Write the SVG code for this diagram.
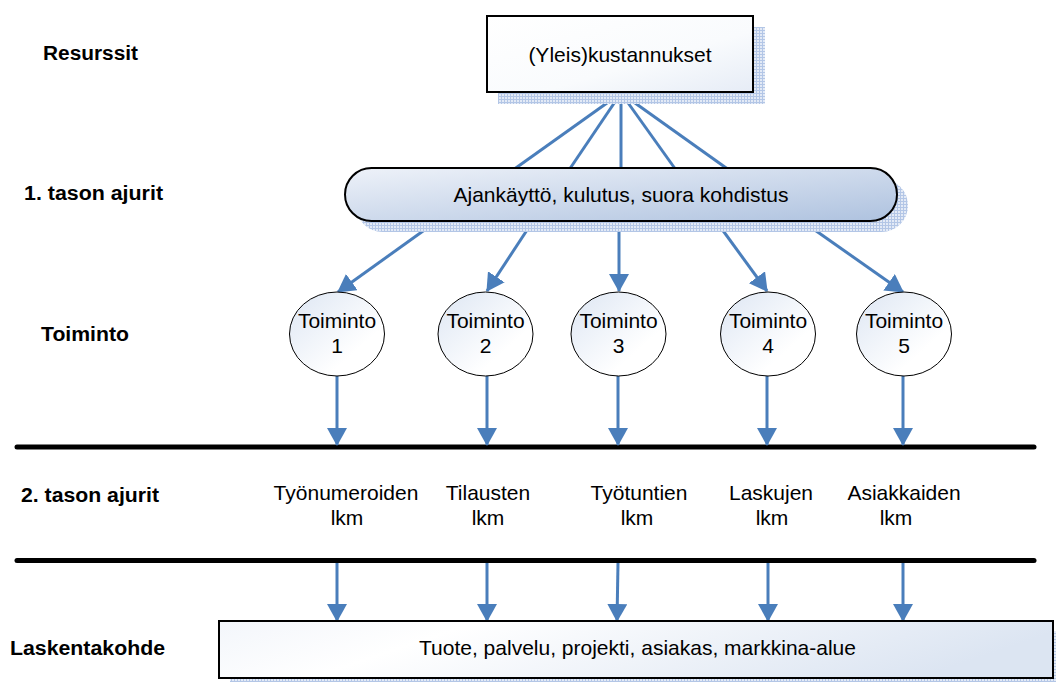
<svg xmlns="http://www.w3.org/2000/svg" width="1056" height="682" viewBox="0 0 1056 682">
  <style>
    .lbl { font-family: "Liberation Sans", Arial, sans-serif; font-size: 20px; font-weight: bold; fill: #000; }
    .txt { font-family: "Liberation Sans", Arial, sans-serif; font-size: 21px; fill: #000; text-anchor: middle; }
    .conn { stroke: #4a7ebb; stroke-width: 3; fill: none; }
    .arr { marker-end: url(#ah); }
    .rule { stroke: #000; stroke-width: 5; stroke-linecap: round; }
    .shadow { fill: url(#chk); }
  </style>
  <defs>
    <pattern id="chk" width="3" height="3" patternUnits="userSpaceOnUse">
      <rect width="3" height="3" fill="#e3eaf6"/>
      <rect width="3" height="1" fill="#b3c6e6"/>
      <rect width="1" height="3" fill="#b3c6e6"/>
    </pattern>
    <linearGradient id="gBox" x1="0" y1="0" x2="1" y2="1">
      <stop offset="0" stop-color="#ffffff"/>
      <stop offset="0.6" stop-color="#f9fbfd"/>
      <stop offset="1" stop-color="#e6ecf6"/>
    </linearGradient>
    <linearGradient id="gPill" x1="0" y1="0" x2="1" y2="1">
      <stop offset="0" stop-color="#eef2f9"/>
      <stop offset="1" stop-color="#aec2df"/>
    </linearGradient>
    <linearGradient id="gCirc" x1="0" y1="0" x2="1" y2="1">
      <stop offset="0" stop-color="#dde6f3"/>
      <stop offset="0.7" stop-color="#ffffff"/>
      <stop offset="1" stop-color="#ffffff"/>
    </linearGradient>
    <linearGradient id="gBot" x1="0" y1="0" x2="1" y2="0.2">
      <stop offset="0" stop-color="#f3f6fb"/>
      <stop offset="0.3" stop-color="#ffffff"/>
      <stop offset="1" stop-color="#dce5f2"/>
    </linearGradient>
    <marker id="ah" viewBox="0 0 18 20" refX="17" refY="10" markerWidth="18" markerHeight="20" markerUnits="userSpaceOnUse" orient="auto">
      <path d="M0,0 L18,10 L0,20 z" fill="#4a7ebb"/>
    </marker>
  </defs>

  <g id="labels">
    <text class="lbl" x="43" y="60" textLength="95" lengthAdjust="spacingAndGlyphs">Resurssit</text>
    <text class="lbl" x="24" y="200" textLength="139" lengthAdjust="spacingAndGlyphs">1. tason ajurit</text>
    <text class="lbl" x="41" y="341" textLength="88" lengthAdjust="spacingAndGlyphs">Toiminto</text>
    <text class="lbl" x="21" y="502" textLength="138" lengthAdjust="spacingAndGlyphs">2. tason ajurit</text>
    <text class="lbl" x="10" y="655" textLength="155" lengthAdjust="spacingAndGlyphs">Laskentakohde</text>
  </g>

  <g id="rules">
    <line class="rule" x1="17" y1="447" x2="1034" y2="447"/>
    <line class="rule" x1="17" y1="560.5" x2="1034" y2="560.5"/>
  </g>

  <g id="connectors">
    <line class="conn" x1="621" y1="93" x2="513" y2="170"/>
    <line class="conn" x1="621" y1="93" x2="569" y2="170"/>
    <line class="conn" x1="621" y1="93" x2="621" y2="170"/>
    <line class="conn" x1="621" y1="93" x2="676" y2="170"/>
    <line class="conn" x1="621" y1="93" x2="729" y2="170"/>

    <line class="conn arr" x1="437" y1="221" x2="338" y2="292"/>
    <line class="conn arr" x1="533" y1="221" x2="487" y2="291"/>
    <line class="conn arr" x1="619" y1="221" x2="619" y2="291"/>
    <line class="conn arr" x1="716" y1="221" x2="767" y2="291"/>
    <line class="conn arr" x1="802" y1="221" x2="903" y2="292"/>

    <line class="conn arr" x1="337" y1="376" x2="337" y2="445"/>
    <line class="conn arr" x1="487" y1="376" x2="487" y2="445"/>
    <line class="conn arr" x1="618" y1="376" x2="618" y2="445"/>
    <line class="conn arr" x1="767" y1="376" x2="767" y2="445"/>
    <line class="conn arr" x1="903" y1="376" x2="903" y2="445"/>

    <line class="conn arr" x1="337" y1="563" x2="337" y2="621"/>
    <line class="conn arr" x1="487" y1="563" x2="487" y2="621"/>
    <line class="conn arr" x1="618" y1="563" x2="617" y2="621"/>
    <line class="conn arr" x1="768" y1="563" x2="768" y2="621"/>
    <line class="conn arr" x1="903" y1="563" x2="903" y2="621"/>
  </g>

  <g id="resources">
    <rect class="shadow" x="498" y="27" width="267" height="77"/>
    <rect x="487" y="16" width="266" height="76" fill="url(#gBox)" stroke="#000" stroke-width="2"/>
    <text class="txt" x="620" y="62">(Yleis)kustannukset</text>
  </g>

  <g id="drivers1">
    <rect class="shadow" x="356" y="179" width="552" height="53" rx="26.5"/>
    <rect x="345" y="168" width="552" height="53" rx="26.5" fill="url(#gPill)" stroke="#000" stroke-width="2"/>
    <text class="txt" x="621" y="202">Ajankäyttö, kulutus, suora kohdistus</text>
  </g>

  <g id="act1">
    <ellipse cx="337" cy="334" rx="47.5" ry="42" fill="url(#gCirc)" stroke="#000" stroke-width="1"/>
    <text class="txt" x="337" y="328">Toiminto</text>
    <text class="txt" x="337" y="353">1</text>
  </g>
  <g id="act2">
    <ellipse cx="485.5" cy="334" rx="47.5" ry="42" fill="url(#gCirc)" stroke="#000" stroke-width="1"/>
    <text class="txt" x="485.5" y="328">Toiminto</text>
    <text class="txt" x="485.5" y="353">2</text>
  </g>
  <g id="act3">
    <ellipse cx="618.5" cy="334" rx="47.5" ry="42" fill="url(#gCirc)" stroke="#000" stroke-width="1"/>
    <text class="txt" x="618.5" y="328">Toiminto</text>
    <text class="txt" x="618.5" y="353">3</text>
  </g>
  <g id="act4">
    <ellipse cx="768" cy="334" rx="47.5" ry="42" fill="url(#gCirc)" stroke="#000" stroke-width="1"/>
    <text class="txt" x="768" y="328">Toiminto</text>
    <text class="txt" x="768" y="353">4</text>
  </g>
  <g id="act5">
    <ellipse cx="904" cy="334" rx="47.5" ry="42" fill="url(#gCirc)" stroke="#000" stroke-width="1"/>
    <text class="txt" x="904" y="328">Toiminto</text>
    <text class="txt" x="904" y="353">5</text>
  </g>

  <g id="drivers2">
    <text class="txt" x="346" y="500">Työnumeroiden</text>
    <text class="txt" x="347" y="525">lkm</text>
    <text class="txt" x="488" y="500">Tilausten</text>
    <text class="txt" x="488" y="525">lkm</text>
    <text class="txt" x="639" y="500">Työtuntien</text>
    <text class="txt" x="637" y="525">lkm</text>
    <text class="txt" x="771" y="500">Laskujen</text>
    <text class="txt" x="772" y="525">lkm</text>
    <text class="txt" x="904" y="500">Asiakkaiden</text>
    <text class="txt" x="896" y="525">lkm</text>
  </g>

  <g id="costobject">
    <rect class="shadow" x="230" y="631" width="834" height="57"/>
    <rect x="219" y="621" width="834" height="57" fill="url(#gBot)" stroke="#000" stroke-width="2"/>
    <text class="txt" x="637.5" y="655">Tuote, palvelu, projekti, asiakas, markkina-alue</text>
  </g>
</svg>
